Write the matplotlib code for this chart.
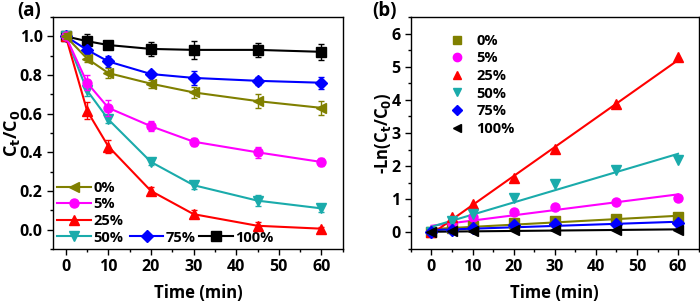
import matplotlib
matplotlib.use("Agg")
import matplotlib.pyplot as plt
import numpy as np
from matplotlib.lines import Line2D
from matplotlib.ticker import MultipleLocator

plt.rcParams['font.family'] = ['Open Sans', 'DejaVu Sans']
plt.rcParams['font.weight'] = 'bold'
plt.rcParams['axes.labelweight'] = 'bold'

time = [0, 5, 10, 20, 30, 45, 60]
labels = ['0%', '5%', '25%', '50%', '75%', '100%']
colors = ['#808000', '#FF00FF', '#FF0000', '#1AABAB', '#0000FF', '#000000']
markers_a = ['<', 'o', '^', 'v', 'D', 's']
markers_b = ['s', 'o', '^', 'v', 'D', '<']

ct_0 = [1.0, 0.885, 0.81, 0.755, 0.71, 0.665, 0.63]
ct_5 = [1.0, 0.76, 0.63, 0.535, 0.455, 0.40, 0.35]
ct_25 = [1.0, 0.615, 0.43, 0.20, 0.08, 0.02, 0.005]
ct_50 = [1.0, 0.72, 0.57, 0.35, 0.23, 0.15, 0.11]
ct_75 = [1.0, 0.93, 0.87, 0.805, 0.785, 0.77, 0.76]
ct_100 = [1.0, 0.975, 0.955, 0.935, 0.93, 0.93, 0.92]

err_0 = [0.015, 0.02, 0.025, 0.02, 0.03, 0.035, 0.035]
err_5 = [0.01, 0.04, 0.04, 0.025, 0.02, 0.03, 0.02]
err_25 = [0.01, 0.045, 0.035, 0.02, 0.02, 0.02, 0.01]
err_50 = [0.01, 0.03, 0.02, 0.015, 0.02, 0.03, 0.02]
err_75 = [0.01, 0.02, 0.03, 0.015, 0.035, 0.02, 0.03]
err_100 = [0.01, 0.035, 0.02, 0.035, 0.045, 0.035, 0.04]

lnc_0 = [0.0, 0.12, 0.20, 0.28, 0.34, 0.41, 0.48]
lnc_5 = [0.0, 0.27, 0.45, 0.62, 0.78, 0.92, 1.05]
lnc_25 = [0.0, 0.48, 0.85, 1.63, 2.52, 3.88, 5.30]
lnc_50 = [0.0, 0.33, 0.55, 1.05, 1.47, 1.87, 2.20]
lnc_75 = [0.0, 0.07, 0.14, 0.22, 0.24, 0.26, 0.27]
lnc_100 = [0.0, 0.03, 0.05, 0.07, 0.07, 0.07, 0.08]

fit_intercept = [0.10, 0.20, -0.05, 0.17, 0.07, 0.02]
fit_slope = [0.0067, 0.0158, 0.0875, 0.0367, 0.0042, 0.0012]

ct_all = [ct_0, ct_5, ct_25, ct_50, ct_75, ct_100]
err_all = [err_0, err_5, err_25, err_50, err_75, err_100]
lnc_all = [lnc_0, lnc_5, lnc_25, lnc_50, lnc_75, lnc_100]

fig = plt.figure(figsize=(7, 3.04), dpi=100)
ax1 = fig.add_axes([0.0757, 0.181, 0.414, 0.763])
ax2 = fig.add_axes([0.587, 0.181, 0.411, 0.763])

tfs = 11.5
lfs = 10.5
ms = 6.5
handles = []
for i in range(6):
    m = markers_a[i]
    ax1.errorbar(time, ct_all[i], yerr=err_all[i], color=colors[i], marker=m,
                 markersize=ms if m != 'D' else ms - 0.5, lw=1.5, capsize=2.5, elinewidth=1,
                 capthick=1, zorder=3 + (5 - i))
    handles.append(Line2D([], [], color=colors[i], marker=m,
                          markersize=ms if m != 'D' else ms - 0.5, lw=1.5))

ax1.set_xlim(-3, 65)
ax1.set_ylim(-0.1, 1.1)
ax1.xaxis.set_major_locator(MultipleLocator(10))
ax1.xaxis.set_minor_locator(MultipleLocator(5))
ax1.yaxis.set_major_locator(MultipleLocator(0.2))
ax1.yaxis.set_minor_locator(MultipleLocator(0.1))
ax1.set_xlabel('Time (min)', fontsize=12, fontweight='bold')
ax1.xaxis.set_label_coords(0.5, -0.15)
ax1.set_ylabel('C$_\\mathbf{t}$/C$_\\mathbf{0}$', fontsize=13, fontweight='bold')
ax1.yaxis.set_label_coords(-0.107, 0.5)

leg1 = ax1.legend(handles[:4], labels[:4], loc='lower left', bbox_to_anchor=(-0.02, -0.025),
                  frameon=False, handlelength=2.3, handletextpad=0.15,
                  labelspacing=0.18, borderaxespad=0.3,
                  prop={'weight': 'bold', 'size': lfs})
ax1.add_artist(leg1)
ax1.legend(handles[4:], labels[4:], loc='lower left', bbox_to_anchor=(0.23, -0.025),
           frameon=False, ncol=2, handlelength=2.3, handletextpad=0.15, columnspacing=0.25,
           borderaxespad=0.3, prop={'weight': 'bold', 'size': lfs})
fig.text(17 / 700, 1 - 1 / 304, '(a)', fontsize=13.5, fontweight='bold', ha='left', va='top')

xfit = np.array([0, 60])
bh = []
for i in range(6):
    ax2.plot(xfit, fit_intercept[i] + fit_slope[i] * xfit, color=colors[i], lw=1.5, zorder=2)
for i in range(6):
    m = markers_b[i]
    ax2.plot(time, lnc_all[i], ls='none', color=colors[i], marker=m,
             markersize=ms if m != 'D' else ms - 0.5, zorder=3)
    bh.append(Line2D([], [], ls='none', color=colors[i], marker=m,
                     markersize=ms - 0.5 if m != 'D' else ms - 1))
ax2.set_xlim(-5, 65)
ax2.set_ylim(-0.5, 6.5)
ax2.xaxis.set_major_locator(MultipleLocator(10))
ax2.xaxis.set_minor_locator(MultipleLocator(5))
ax2.yaxis.set_major_locator(MultipleLocator(1))
ax2.yaxis.set_minor_locator(MultipleLocator(0.5))
ax2.set_xlabel('Time (min)', fontsize=12, fontweight='bold')
ax2.xaxis.set_label_coords(0.5, -0.15)
ax2.set_ylabel('-Ln(C$_\\mathbf{t}$/C$_\\mathbf{0}$)', fontsize=12, fontweight='bold')
ax2.yaxis.set_label_coords(-0.063, 0.5)
ax2.legend(bh, labels, loc='upper left', bbox_to_anchor=(0.08, 0.985), frameon=False,
           handlelength=1.3, handletextpad=0.7, labelspacing=0.25,
           prop={'weight': 'bold', 'size': lfs})
fig.text(372 / 700, 1 - 1 / 304, '(b)', fontsize=13.5, fontweight='bold', ha='left', va='top')

for ax in (ax1, ax2):
    ax.tick_params(which='both', direction='out', top=False, right=False, labelsize=tfs)
    ax.tick_params(which='major', length=4, width=1)
    ax.tick_params(which='minor', length=2, width=1)
    for lab in ax.get_xticklabels() + ax.get_yticklabels():
        lab.set_fontweight('bold')
    for s in ax.spines.values():
        s.set_linewidth(1.0)

fig.savefig('out.png', dpi=100)
